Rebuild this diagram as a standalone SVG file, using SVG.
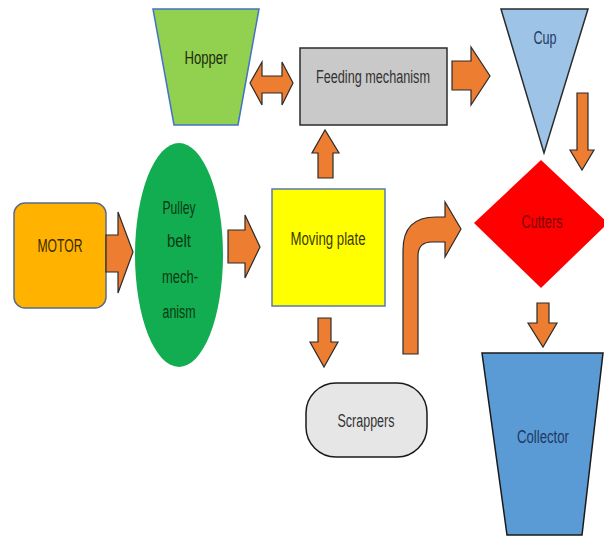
<svg xmlns="http://www.w3.org/2000/svg" width="604" height="537" viewBox="0 0 604 537">
<style>
text{font-family:"Liberation Sans Narrow","Liberation Sans",Arial,sans-serif;font-size:18px;text-anchor:middle;dominant-baseline:central}
.arr{fill:#ED7D31;stroke:#2b2b2b;stroke-width:1.2;stroke-linejoin:miter}
</style>
<rect width="604" height="537" fill="#ffffff"/>
<g id="hopper">
<polygon points="153,9 259,9 238,125 174,125" fill="#92D050" stroke="#4472C4" stroke-width="1.5"/>
<text x="206" y="58" fill="#1c2b0c" textLength="43" lengthAdjust="spacingAndGlyphs">Hopper</text>
</g>
<g id="feeding">
<rect x="300" y="48" width="147" height="77" fill="#C9C9C9" stroke="#2b2b2b" stroke-width="1.5"/>
<text x="373" y="77" fill="#333333" textLength="114" lengthAdjust="spacingAndGlyphs">Feeding mechanism</text>
</g>
<g id="cup">
<polygon points="501,9 588,9 544,153" fill="#9DC3E6" stroke="#2b2b2b" stroke-width="1.5"/>
<text x="545" y="38" fill="#1F3864" textLength="23" lengthAdjust="spacingAndGlyphs">Cup</text>
</g>
<g id="motor">
<rect x="14" y="203" width="92" height="105" rx="11" fill="#FFB300" stroke="#5a6b8c" stroke-width="1.5"/>
<text x="60" y="246" fill="#3a2a00" textLength="45" lengthAdjust="spacingAndGlyphs">MOTOR</text>
</g>
<g id="pulley">
<ellipse cx="179" cy="255" rx="44" ry="112" fill="#12AD50"/>
<text x="179" y="208" fill="#0b3a12" textLength="33" lengthAdjust="spacingAndGlyphs">Pulley</text>
<text x="179" y="241" fill="#0b3a12" textLength="24" lengthAdjust="spacingAndGlyphs">belt</text>
<text x="180" y="277" fill="#0b3a12" textLength="36" lengthAdjust="spacingAndGlyphs">mech-</text>
<text x="179" y="312" fill="#0b3a12" textLength="33" lengthAdjust="spacingAndGlyphs">anism</text>
</g>
<g id="moving">
<rect x="272" y="189" width="113" height="117" fill="#FFFF00" stroke="#5a7ab0" stroke-width="1.5"/>
<text x="328" y="239" fill="#3a3a00" textLength="75" lengthAdjust="spacingAndGlyphs">Moving plate</text>
</g>
<g id="cutters">
<polygon points="541,160 608,223 541,288 474,223" fill="#FF0000"/>
<text x="542" y="222" fill="#7a0000" textLength="41" lengthAdjust="spacingAndGlyphs">Cutters</text>
</g>
<g id="scrappers">
<rect x="306" y="383" width="121" height="74" rx="30" ry="30" fill="#E7E6E6" stroke="#1a1a1a" stroke-width="1.5"/>
<text x="366" y="421" fill="#333333" textLength="57" lengthAdjust="spacingAndGlyphs">Scrappers</text>
</g>
<g id="collector">
<polygon points="482,353 603,353 582,535 507,535" fill="#5B9BD5" stroke="#1a1a1a" stroke-width="1.5"/>
<text x="543" y="437" fill="#1F3864" textLength="52" lengthAdjust="spacingAndGlyphs">Collector</text>
</g>
<g id="connectors">
<polygon class="arr" points="250,83 262,62 262,76 282,76 282,62 293,83 282,105 282,93 262,93 262,105"/>
<polygon class="arr" points="452,61 471,61 471,47 490,76 471,105 471,90 452,90"/>
<polygon class="arr" points="577,93 588,93 588,150 594,150 582,170 570,150 577,150"/>
<polygon class="arr" points="318,178 318,153 312,153 325,130 339,153 333,153 333,178"/>
<polygon class="arr" points="106,235 118,235 118,212 133,252 118,293 118,272 106,272"/>
<polygon class="arr" points="228,230 245,230 245,215 260,247 245,278 245,263 228,263"/>
<polygon class="arr" points="318,318 331,318 331,342 338,342 324,367 310,342 318,342"/>
<polygon class="arr" points="537,303 549,303 549,323 557,323 543,347 528,323 537,323"/>
<path class="arr" d="M403,354 L403,250 Q403,217 436,217 L445,217 L445,202 L461,229 L445,257 L445,242 L432,242 Q418,242 418,256 L418,354 Z"/>
</g>
</svg>
